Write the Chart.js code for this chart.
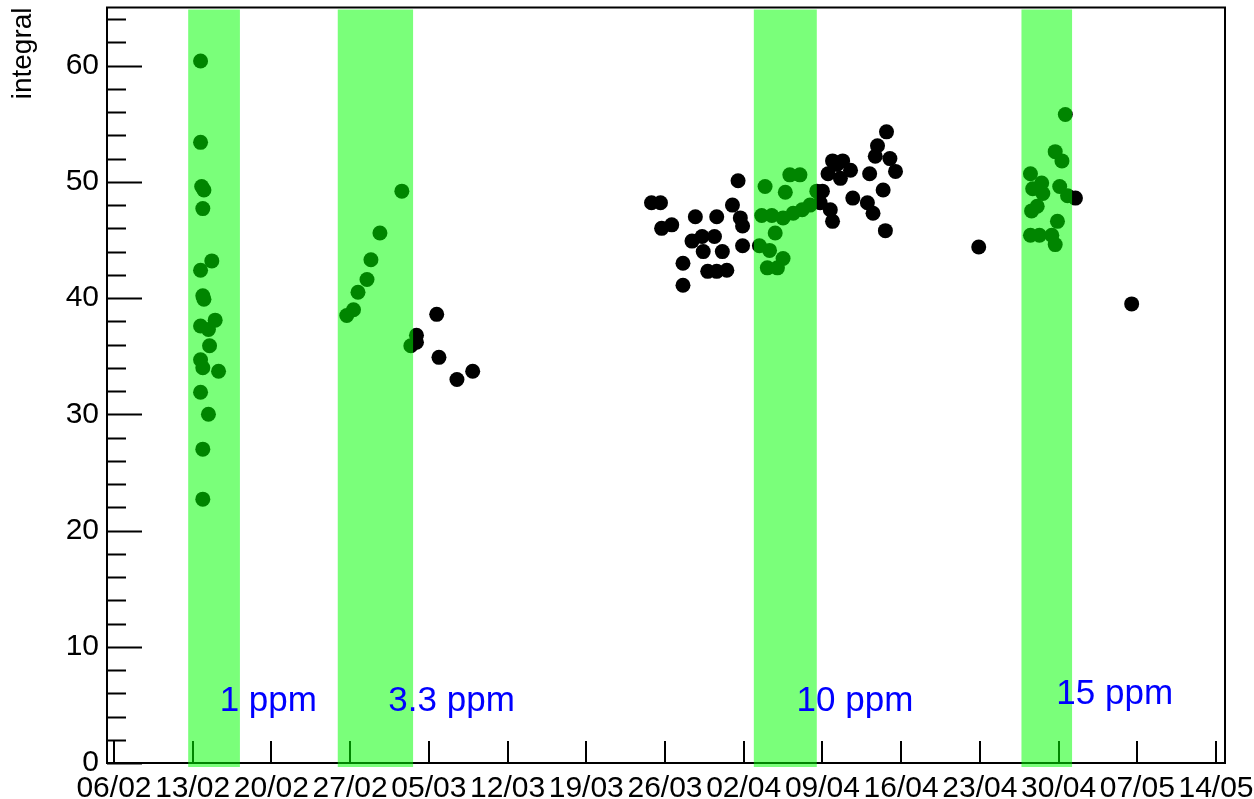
<!DOCTYPE html>
<html>
<head>
<meta charset="utf-8">
<script src="https://cdn.jsdelivr.net/npm/chart.js@4.4.1/dist/chart.umd.min.js"></script>
<style>
  html, body { margin: 0; padding: 0; background: #fff; }
  #wrap { width: 1254px; height: 799px; }
</style>
</head>
<body>
<div id="wrap"><canvas id="integral-chart" width="1254" height="799"></canvas></div>
<script>
  // days counted from 06/02/2012
  const startDate = new Date(2012, 1, 6);
  const tickDays = [0, 7, 14, 21, 28, 35, 42, 49, 56, 63, 70, 77, 84, 91, 98];
  const yTicks = [0, 10, 20, 30, 40, 50, 60];

  const pointDays = [
    7.7, 7.7, 7.8, 8.0, 7.9, 8.7, 7.7, 7.9, 8.0, 9.0, 7.7, 8.4, 8.5, 7.7, 7.9, 9.3, 7.7, 8.4, 7.9, 7.9,
    20.7, 21.3, 21.7, 22.5, 22.85, 23.65, 25.6, 26.4, 26.9, 26.9, 28.7, 28.9, 30.5, 31.9,
    47.8, 48.6, 48.7, 49.6, 51.7, 53.6, 55.0, 55.5, 55.7, 55.9, 50.6, 50.6, 51.4, 52.3, 53.4, 52.4, 54.1, 52.8, 53.6, 54.5, 55.9,
    57.9, 60.1, 61.0, 59.7, 57.6, 58.5, 59.5, 60.4, 61.2, 61.9, 58.8, 57.4, 58.3, 59.5, 58.1, 59.0, 62.5,
    62.8, 63.0, 63.5, 63.7, 63.9, 63.9, 64.6, 64.8, 65.5, 64.3, 65.7, 67.0, 67.5, 67.2, 67.7, 67.9, 68.7, 69.0, 69.5, 68.4, 68.6,
    76.9,
    84.6, 83.7, 84.3, 81.5, 81.7, 82.5, 82.6, 84.1, 84.8, 82.1, 81.6, 83.9, 81.5, 82.3, 83.4, 83.7, 85.5,
    90.5
  ];
  const pointValues = [
    60.4, 53.4, 49.6, 49.3, 47.7, 43.2, 42.4, 40.2, 39.9, 38.1, 37.6, 37.3, 35.9, 34.7, 34.0, 33.7, 31.9, 30.0, 27.0, 22.7,
    38.5, 39.0, 40.5, 41.6, 43.3, 45.6, 49.2, 35.9, 36.8, 36.2, 38.6, 34.9, 33.0, 33.7,
    48.2, 48.2, 46.0, 46.3, 47.0, 47.0, 48.0, 50.1, 46.9, 46.2, 43.0, 41.1, 44.9, 45.3, 45.3, 44.0, 44.0, 42.3, 42.3, 42.4, 44.5,
    49.6, 50.6, 50.6, 49.1, 47.1, 47.1, 46.9, 47.3, 47.6, 48.0, 45.6, 44.5, 44.1, 43.4, 42.6, 42.6, 49.2,
    48.2, 49.2, 50.7, 47.6, 46.6, 51.8, 50.3, 51.8, 51.0, 51.5, 48.6, 48.2, 47.3, 50.7, 52.2, 53.1, 54.3, 52.0, 50.9, 49.3, 45.8,
    44.4,
    55.8, 52.6, 51.8, 50.7, 49.4, 49.9, 49.0, 49.6, 48.8, 47.9, 47.5, 46.6, 45.4, 45.4, 45.4, 44.6, 48.6,
    39.5
  ];

  // concentration periods
  const bandStart = [6.6, 19.9, 56.9, 80.7];
  const bandEnd = [11.2, 26.6, 62.5, 85.2];
  const bandLabels = ['1 ppm', '3.3 ppm', '10 ppm', '15 ppm'];
  const labelDays = [9.4, 24.4, 60.7, 83.8];
  const labelValues = [4.45, 4.45, 4.45, 5.05];

  function dayLabel(d) {
    const dt = new Date(startDate.getTime() + d * 86400000);
    const dd = String(dt.getDate()).padStart(2, '0');
    const mm = String(dt.getMonth() + 1).padStart(2, '0');
    return dd + '/' + mm;
  }

  const FONT = "'Liberation Sans', Arial, Helvetica, sans-serif";

  // frame + ROOT style ticks (inside the plot)
  const frameTicks = {
    id: 'frameTicks',
    beforeDatasetsDraw(chart) {
      const { ctx, chartArea: a, scales: { x, y } } = chart;
      ctx.save();
      ctx.strokeStyle = '#000';
      ctx.lineWidth = 2;
      ctx.strokeRect(a.left, a.top, a.right - a.left, a.bottom - a.top);
      ctx.beginPath();
      for (let v = 0; v <= 64; v += 2) {
        const py = Math.round(y.getPixelForValue(v)) + 0.5;
        const len = v % 10 === 0 ? 35 : 19;
        ctx.moveTo(a.left, py);
        ctx.lineTo(a.left + len, py);
      }
      tickDays.forEach(d => {
        const px = Math.round(x.getPixelForValue(d));
        ctx.moveTo(px, a.bottom);
        ctx.lineTo(px, a.bottom - 22);
      });
      ctx.stroke();
      ctx.restore();
    },
    afterDatasetsDraw(chart) {
      const { ctx, chartArea: a, scales: { x, y } } = chart;
      ctx.save();
      ctx.fillStyle = 'rgba(0, 255, 0, 0.52)';
      bandStart.forEach((s, i) => {
        const x1 = x.getPixelForValue(s);
        const x2 = x.getPixelForValue(bandEnd[i]);
        ctx.fillRect(x1, a.top + 2, x2 - x1, a.bottom + 4 - (a.top + 2));
      });
      ctx.fillStyle = '#0000ff';
      ctx.font = '35px ' + FONT;
      ctx.textBaseline = 'alphabetic';
      bandLabels.forEach((t, i) => {
        ctx.fillText(t, x.getPixelForValue(labelDays[i]), y.getPixelForValue(labelValues[i]));
      });
      ctx.restore();
    }
  };

  const ctx = document.getElementById('integral-chart');
  new Chart(ctx, {
    type: 'scatter',
    data: {
      datasets: [{
        label: 'integral',
        data: pointDays.map((d, i) => ({ x: d, y: pointValues[i] })),
        pointRadius: 7.5,
        pointBackgroundColor: '#000',
        pointBorderWidth: 0,
        showLine: false
      }]
    },
    options: {
      responsive: false,
      animation: false,
      layout: { padding: { top: 5, right: 29, left: 0, bottom: 0 } },
      plugins: { legend: { display: false }, tooltip: { enabled: false } },
      scales: {
        x: {
          type: 'linear',
          min: -0.62,
          max: 98.8,
          grid: { display: false, drawTicks: false },
          border: { display: false },
          afterBuildTicks: axis => { axis.ticks = tickDays.map(v => ({ value: v })); },
          afterFit: axis => {
            axis.height = 36;
            axis.paddingLeft = 0;
            axis.paddingRight = 0;
          },
          ticks: {
            autoSkip: false,
            maxRotation: 0,
            minRotation: 0,
            padding: 8,
            color: '#000',
            font: { family: FONT, size: 30 },
            callback: v => dayLabel(v)
          }
        },
        y: {
          min: 0,
          max: 65,
          grid: { display: false, drawTicks: false },
          border: { display: false },
          afterBuildTicks: axis => { axis.ticks = yTicks.map(v => ({ value: v })); },
          afterFit: axis => {
            axis.width = 107;
            axis.paddingTop = 0;
            axis.paddingBottom = 0;
          },
          ticks: {
            padding: 8,
            color: '#000',
            font: { family: FONT, size: 30 }
          },
          title: {
            display: true,
            text: 'integral',
            align: 'end',
            color: '#000',
            padding: { top: 6, bottom: 0 },
            font: { family: FONT, size: 28 }
          }
        }
      }
    },
    plugins: [frameTicks]
  });
</script>
</body>
</html>
